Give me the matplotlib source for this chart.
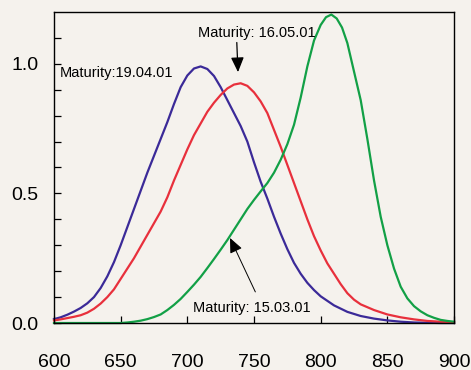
import numpy as np
import matplotlib
matplotlib.use('Agg')
import matplotlib.pyplot as plt

plt.rcParams['font.family'] = ['Liberation Sans', 'DejaVu Sans']

# 数据：三个成熟期的曲线
x_blue = [600, 605, 610, 615, 620, 625, 630, 635, 640, 645, 650, 655, 660, 665, 670,
          675, 680, 685, 690, 695, 700, 705, 710, 715, 720, 725, 730, 735, 740, 745,
          750, 755, 760, 765, 770, 775, 780, 785, 790, 795, 800, 810, 820, 830, 840,
          850, 860, 870, 880, 890, 900]
y_blue = [0.015, 0.022, 0.032, 0.044, 0.058, 0.076, 0.10, 0.135, 0.18, 0.235, 0.30,
          0.37, 0.44, 0.51, 0.58, 0.645, 0.71, 0.775, 0.845, 0.91, 0.955, 0.982,
          0.99, 0.98, 0.953, 0.91, 0.86, 0.81, 0.76, 0.70, 0.62, 0.545, 0.48, 0.41,
          0.345, 0.285, 0.232, 0.19, 0.155, 0.127, 0.103, 0.068, 0.043, 0.027, 0.017,
          0.010, 0.005, 0.002, 0.001, 0.0, 0.0]

x_red = [600, 605, 610, 615, 620, 625, 630, 635, 640, 645, 650, 655, 660, 665, 670,
         675, 680, 685, 690, 695, 700, 705, 710, 715, 720, 725, 730, 735, 740, 745,
         750, 755, 760, 765, 770, 775, 780, 785, 790, 795, 800, 805, 810, 815, 820,
         825, 830, 840, 850, 860, 870, 880, 890, 900]
y_red = [0.01, 0.014, 0.019, 0.024, 0.03, 0.04, 0.055, 0.075, 0.10, 0.13, 0.17, 0.21,
         0.25, 0.295, 0.34, 0.385, 0.43, 0.485, 0.55, 0.61, 0.67, 0.725, 0.77, 0.815,
         0.85, 0.88, 0.905, 0.92, 0.925, 0.915, 0.89, 0.855, 0.81, 0.745, 0.68, 0.61,
         0.54, 0.47, 0.40, 0.335, 0.28, 0.23, 0.19, 0.15, 0.115, 0.09, 0.072, 0.05,
         0.033, 0.022, 0.014, 0.008, 0.005, 0.003]

x_green = [600, 650, 655, 660, 665, 670, 675, 680, 685, 690, 695, 700, 705, 710, 715,
           720, 725, 730, 735, 740, 745, 750, 755, 760, 765, 770, 775, 780, 785, 790,
           795, 800, 804, 808, 812, 816, 820, 825, 830, 835, 840, 845, 850, 855, 860,
           865, 870, 875, 880, 885, 890, 895, 900]
y_green = [0.0, 0.0, 0.002, 0.005, 0.009, 0.015, 0.023, 0.033, 0.05, 0.07, 0.093, 0.12,
           0.148, 0.178, 0.212, 0.247, 0.283, 0.32, 0.36, 0.40, 0.44, 0.475, 0.508,
           0.54, 0.58, 0.63, 0.69, 0.765, 0.87, 0.99, 1.09, 1.15, 1.18, 1.19, 1.175,
           1.14, 1.08, 0.97, 0.86, 0.71, 0.55, 0.41, 0.30, 0.21, 0.14, 0.095, 0.065,
           0.045, 0.03, 0.02, 0.012, 0.008, 0.005]

bg = '#f5f2ed'
fig = plt.figure(figsize=(4.71, 3.70), dpi=100, facecolor=bg)
ax = fig.add_axes([0.1146, 0.127, 0.8494, 0.8406], facecolor=bg)

ax.plot(x_blue, y_blue, color='#3b2a98', lw=1.6, clip_on=False)
ax.plot(x_red, y_red, color='#e8303c', lw=1.6, clip_on=False)
ax.plot(x_green, y_green, color='#12a046', lw=1.6, clip_on=False)

ax.set_xlim(600, 900)
ax.set_ylim(0, 1.2)

# 坐标轴刻度
ax.set_xticks([600, 650, 700, 750, 800, 850, 900])
ax.set_yticks([0.0, 0.5, 1.0])
ax.set_yticks(np.arange(0.1, 1.2, 0.1), minor=True)
ax.tick_params(axis='both', direction='in', labelsize=14, length=5, width=0.9,
               top=False, right=False)
ax.tick_params(axis='x', pad=22)
ax.tick_params(axis='y', pad=11)
ax.tick_params(axis='y', which='minor', direction='in', length=5, width=0.9)
ax.set_yticklabels(['0.0', '0.5', '1.0'])
for s in ax.spines.values():
    s.set_linewidth(1.0)

# 标注
head = '-|>,head_length=0.5,head_width=0.22'
ax.text(604, 0.965, 'Maturity:19.04.01', fontsize=10.5, va='center', ha='left')
ax.annotate('Maturity: 16.05.01', xy=(738, 0.968), xytext=(752, 1.12),
            fontsize=10.5, ha='center', va='center',
            arrowprops=dict(arrowstyle=head, color='black', lw=0.9,
                            mutation_scale=18, shrinkA=0, shrinkB=0,
                            relpos=(0.33, 0.0)))
ax.annotate('', xy=(732, 0.328), xytext=(751, 0.12),
            arrowprops=dict(arrowstyle=head, color='black', lw=0.7,
                            mutation_scale=18, shrinkA=0, shrinkB=0))
ax.text(704, 0.058, 'Maturity: 15.03.01', fontsize=10.5, va='center', ha='left')

plt.savefig('out.png', dpi=100, facecolor=bg)
